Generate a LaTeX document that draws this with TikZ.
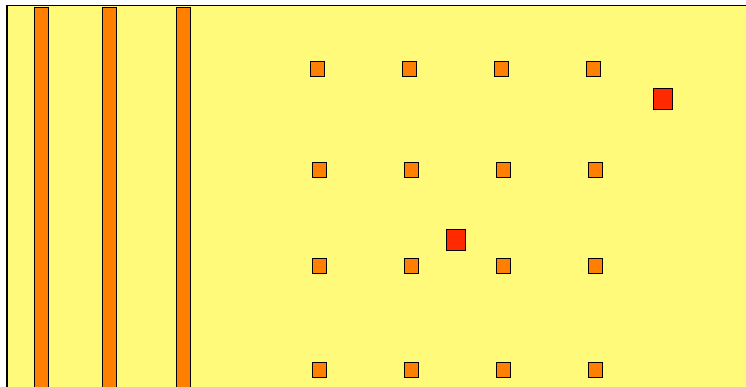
\documentclass[tikz,border=0pt]{standalone}
\usepackage{tikz}

\definecolor{field}{RGB}{255,250,122}
\definecolor{pillar}{RGB}{255,128,0}
\definecolor{hotspot}{RGB}{255,42,0}

\begin{document}
\begin{tikzpicture}[x=1pt, y=-1pt,
    every node/.style={draw, rectangle, inner sep=0pt, line width=0.9pt},
    pillarbox/.style={fill=pillar, minimum width=14pt, minimum height=400pt, anchor=north},
    cell/.style={fill=pillar, minimum width=14pt, minimum height=15pt},
    hot/.style={fill=hotspot, minimum width=19pt, minimum height=21pt}]
        \useasboundingbox (0,0) rectangle (746,387);
        % Background
        \fill[field] (6,5) rectangle (746,387);
        \draw[line width=0.8pt] (6,5.5) -- (746,5.5);
        \draw[line width=1.8pt] (7,5) -- (7,387);

        % Pillars
        \node[pillarbox] (p1) at (41,7) {};
        \node[pillarbox] (p2) at (109,7) {};
        \node[pillarbox] (p3) at (183,7) {};

        % Cells
        \node[cell] (c11) at (317,69) {};
        \node[cell] (c12) at (409,69) {};
        \node[cell] (c13) at (501,69) {};
        \node[cell] (c14) at (593,69) {};
        \node[cell] (c21) at (319,170) {};
        \node[cell] (c22) at (411,170) {};
        \node[cell] (c23) at (503,170) {};
        \node[cell] (c24) at (595,170) {};
        \node[cell] (c31) at (319,266) {};
        \node[cell] (c32) at (411,266) {};
        \node[cell] (c33) at (503,266) {};
        \node[cell] (c34) at (595,266) {};
        \node[cell] (c41) at (319,370) {};
        \node[cell] (c42) at (411,370) {};
        \node[cell] (c43) at (503,370) {};
        \node[cell] (c44) at (595,370) {};

        % Hot spots
        \node[hot] (h1) at (662.5,98.5) {};
        \node[hot] (h2) at (455.5,240) {};
    \end{tikzpicture}
\end{document}
